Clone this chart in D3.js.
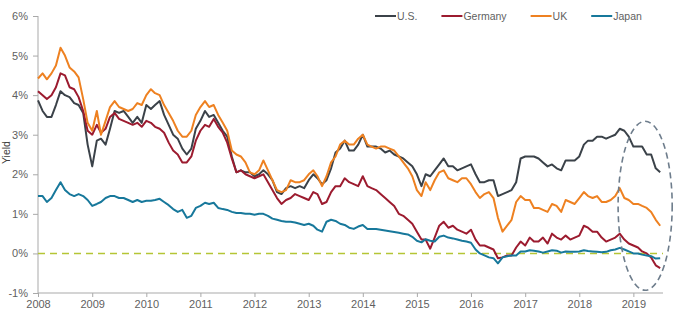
<!DOCTYPE html>
<html>
<head>
<meta charset="utf-8">
<script src="https://cdn.jsdelivr.net/npm/d3@7"></script>
<style>
  body { margin: 0; background: #fff; }
  svg { display: block; font-family: "Liberation Sans", Arial, sans-serif; }
</style>
</head>
<body>
<div id="chart"></div>
<script>
// monthly 10-year yields (%), Jan 2008 .. Jul 2019
const months = d3.timeMonths(new Date(2008, 0, 1), new Date(2019, 6, 2));

const usYield = [
  3.87, 3.6, 3.45, 3.45, 3.75, 4.1, 4.0, 3.95, 3.8, 3.75, 3.55, 2.75,
  2.2, 2.85, 2.9, 2.75, 3.15, 3.6, 3.55, 3.6, 3.45, 3.3, 3.45, 3.3,
  3.75, 3.65, 3.75, 3.85, 3.5, 3.25, 3.0, 2.9, 2.65, 2.5, 2.65, 3.15,
  3.35, 3.6, 3.45, 3.5, 3.3, 3.1, 2.95, 2.45, 2.05, 2.1, 2.05, 2.05,
  1.95, 2.0, 2.1, 2.0, 1.85, 1.55, 1.5, 1.65, 1.7, 1.65, 1.7, 1.65,
  1.85, 2.0, 1.9, 1.75, 1.85, 2.15, 2.55, 2.65, 2.85, 2.6, 2.6, 2.75,
  3.0, 2.7, 2.7, 2.7, 2.65, 2.55, 2.6, 2.5, 2.45, 2.4, 2.3, 2.2,
  2.0, 1.7, 2.0, 1.95, 2.1, 2.25, 2.4, 2.2, 2.2, 2.1, 2.15, 2.2,
  2.25, 2.0, 1.8, 1.8, 1.85, 1.85, 1.45, 1.5, 1.55, 1.6, 1.8, 2.4,
  2.45, 2.45, 2.45, 2.4, 2.3, 2.2, 2.25, 2.15, 2.1, 2.35, 2.35, 2.35,
  2.45, 2.75, 2.85, 2.85, 2.95, 2.95, 2.9, 2.95, 3.0, 3.15, 3.1, 2.95,
  2.7, 2.7, 2.7, 2.5, 2.5, 2.15, 2.05
];

const germanyYield = [
  4.1, 4.0, 3.9, 4.0, 4.2, 4.55, 4.5, 4.2, 4.15, 3.95, 3.6, 3.1,
  3.0, 3.25, 3.05, 3.15, 3.45, 3.55, 3.4, 3.35, 3.3, 3.25, 3.3, 3.2,
  3.35, 3.3, 3.2, 3.15, 3.05, 2.8, 2.6, 2.5, 2.3, 2.3, 2.45, 2.85,
  3.1, 3.25, 3.2, 3.4, 3.2, 3.05, 2.8, 2.4, 2.05, 2.1, 2.0, 1.95,
  1.9, 1.95, 2.0, 1.8, 1.6, 1.4, 1.25, 1.35, 1.4, 1.5, 1.45, 1.4,
  1.35, 1.55, 1.5, 1.25, 1.3, 1.55, 1.7, 1.7, 1.9, 1.8, 1.75, 1.7,
  1.95, 1.7, 1.65, 1.6, 1.5, 1.4, 1.3, 1.2, 1.0, 0.95, 0.85, 0.75,
  0.55, 0.35, 0.35, 0.12, 0.4, 0.7, 0.8, 0.65, 0.7, 0.6, 0.55, 0.5,
  0.6, 0.35, 0.2, 0.2, 0.15, 0.1, -0.12, -0.1, -0.05, -0.05, 0.15, 0.3,
  0.2, 0.4, 0.3, 0.3, 0.4, 0.25, 0.5, 0.4, 0.35, 0.45, 0.35, 0.4,
  0.45, 0.7, 0.65, 0.55, 0.55, 0.4, 0.3, 0.35, 0.4, 0.5, 0.35, 0.25,
  0.2, 0.15, 0.05, 0.0, -0.1, -0.3, -0.37
];

const ukYield = [
  4.42, 4.55, 4.4, 4.55, 4.75, 5.2, 5.0, 4.7, 4.6, 4.45, 3.9, 3.3,
  3.1, 3.6, 3.0, 3.35, 3.7, 3.85, 3.7, 3.65, 3.6, 3.65, 3.8, 3.75,
  4.0, 4.15, 4.05, 4.0, 3.75, 3.55, 3.35, 3.1, 2.95, 2.95, 3.1, 3.5,
  3.7, 3.85, 3.7, 3.75, 3.5, 3.3, 3.1, 2.6, 2.5, 2.45, 2.3, 2.05,
  2.0, 2.1, 2.35, 2.1, 1.85, 1.6, 1.55, 1.6, 1.85, 1.8, 1.8, 1.85,
  2.0, 2.1, 1.95, 1.7, 1.95, 2.3, 2.45, 2.75, 2.85, 2.75, 2.75, 2.9,
  3.0, 2.75, 2.7, 2.65, 2.7, 2.7, 2.65, 2.6, 2.45, 2.3, 2.15, 1.95,
  1.6, 1.45, 1.8, 1.6, 1.85, 2.05, 2.1, 1.9, 1.85, 1.8, 1.9, 1.9,
  1.75, 1.55, 1.4, 1.5, 1.55, 1.4, 0.9, 0.55, 0.7, 0.85, 1.3, 1.45,
  1.35, 1.35, 1.15, 1.15, 1.1, 1.05, 1.25, 1.2, 1.05, 1.35, 1.3, 1.25,
  1.4, 1.55, 1.45, 1.4, 1.45, 1.3, 1.3, 1.35, 1.45, 1.65, 1.4, 1.35,
  1.25, 1.25, 1.2, 1.15, 1.05, 0.85, 0.7
];

const japanYield = [
  1.45, 1.45, 1.3, 1.4, 1.6, 1.8, 1.6, 1.5, 1.45, 1.5, 1.45, 1.35,
  1.2, 1.25, 1.3, 1.4, 1.45, 1.45, 1.4, 1.4, 1.35, 1.3, 1.35, 1.3,
  1.33, 1.33, 1.35, 1.38, 1.3, 1.22, 1.12, 1.05, 1.1, 0.9, 0.95, 1.15,
  1.2, 1.28, 1.25, 1.28, 1.15, 1.12, 1.1, 1.05, 1.02, 1.02, 1.0, 1.0,
  0.98, 1.0, 1.0, 0.95, 0.88, 0.85, 0.82, 0.8, 0.8, 0.78, 0.75, 0.72,
  0.75, 0.7, 0.6, 0.55, 0.8, 0.85, 0.82, 0.75, 0.72, 0.65, 0.62, 0.68,
  0.72, 0.62, 0.62, 0.62, 0.6, 0.58, 0.56, 0.54, 0.52, 0.5, 0.48, 0.42,
  0.32, 0.28, 0.36, 0.32, 0.3, 0.42, 0.45, 0.4, 0.38, 0.35, 0.32, 0.3,
  0.27, 0.1, 0.0, -0.05, -0.1, -0.12, -0.25, -0.1, -0.07, -0.05, -0.05, 0.05,
  0.05, 0.08, 0.07, 0.05, 0.02, 0.05, 0.08, 0.07, 0.02, 0.05, 0.04, 0.04,
  0.05, 0.08, 0.06, 0.05, 0.04, 0.03, 0.04, 0.08, 0.1, 0.14, 0.1, 0.05,
  0.0, 0.0, -0.03, -0.05, -0.07, -0.13, -0.12
];

const seriesNames = ["U.S.", "Germany", "UK", "Japan"];
const seriesColors = ["#3b4249", "#9c1b2f", "#ee8121", "#17789b"];
const seriesValues = [usYield, germanyYield, ukYield, japanYield];

const yTicks = [-1, 0, 1, 2, 3, 4, 5, 6];
const xTickYears = d3.range(2008, 2020);

// dashed oval drawn round 2019: date span and yield span
const ovalDates = [new Date(2018, 8, 20), new Date(2019, 8, 20)];
const ovalYields = [-0.93, 3.34];

const width = 680, height = 324;
const plotLeft = 38, plotRight = 663, plotTop = 16, plotBottom = 293;

const svg = d3.select("#chart").append("svg")
  .attr("width", width)
  .attr("height", height);

const x = d3.scaleTime()
  .domain([new Date(2008, 0, 1), new Date(2019, 6, 20)])
  .range([plotLeft, plotRight]);

const y = d3.scaleLinear()
  .domain([-1, 6])
  .range([plotBottom, plotTop]);

// Y axis
const yAxis = svg.append("g")
  .attr("transform", "translate(" + plotLeft + ",0)")
  .call(d3.axisLeft(y).tickValues(yTicks).tickSize(5).tickPadding(5)
    .tickFormat(d => d + "%"));

// X axis
const xAxis = svg.append("g")
  .attr("transform", "translate(0," + plotBottom + ")")
  .call(d3.axisBottom(x).tickValues(xTickYears.map(yr => new Date(yr, 0, 1)))
    .tickSize(4).tickPadding(3).tickFormat(d3.timeFormat("%Y")));

[yAxis, xAxis].forEach(g => {
  g.selectAll("path, line").attr("stroke", "#a9a9a9");
  g.selectAll("text").attr("fill", "#5f5f5f").style("font-size", "11px");
});
yAxis.select(".domain").attr("d", "M0," + plotTop + "V" + plotBottom);
xAxis.select(".domain").attr("d", "M" + plotLeft + ",0H" + plotRight);

svg.append("text")
  .attr("transform", "translate(6," + y(2.55) + ") rotate(-90)")
  .attr("text-anchor", "middle")
  .attr("dy", "0.35em")
  .attr("fill", "#404040")
  .style("font-size", "10.5px")
  .text("Yield");

// zero line
svg.append("line")
  .attr("x1", plotLeft).attr("x2", plotRight)
  .attr("y1", y(0)).attr("y2", y(0))
  .attr("stroke", "#b5c535")
  .attr("stroke-width", 1.6)
  .attr("stroke-dasharray", "7,5");

// Lines
const line = d3.line()
  .x((d, i) => x(months[i]))
  .y(d => y(d));

seriesValues.forEach((vals, k) => {
  svg.append("path")
    .datum(vals)
    .attr("fill", "none")
    .attr("stroke", seriesColors[k])
    .attr("stroke-width", 2)
    .attr("stroke-linejoin", "round")
    .attr("d", line);
});

// oval
const ox0 = x(ovalDates[0]), ox1 = x(ovalDates[1]);
const oy0 = y(ovalYields[1]), oy1 = y(ovalYields[0]);
svg.append("ellipse")
  .attr("cx", (ox0 + ox1) / 2)
  .attr("cy", (oy0 + oy1) / 2)
  .attr("rx", (ox1 - ox0) / 2)
  .attr("ry", (oy1 - oy0) / 2)
  .attr("fill", "none")
  .attr("stroke", "#6e7d8c")
  .attr("stroke-width", 1.6)
  .attr("stroke-dasharray", "6,4");

// legend
const legend = svg.append("g").attr("transform", "translate(375,16)");
let lx = 0;
seriesNames.forEach((name, k) => {
  legend.append("line")
    .attr("x1", lx).attr("x2", lx + 21)
    .attr("stroke", seriesColors[k])
    .attr("stroke-width", 2);
  const t = legend.append("text")
    .attr("x", lx + 22)
    .attr("dy", "0.35em")
    .attr("fill", "#5f5f5f")
    .style("font-size", "10.5px")
    .text(name);
  lx += 22 + t.node().getComputedTextLength() + 24;
});
</script>
</body>
</html>
